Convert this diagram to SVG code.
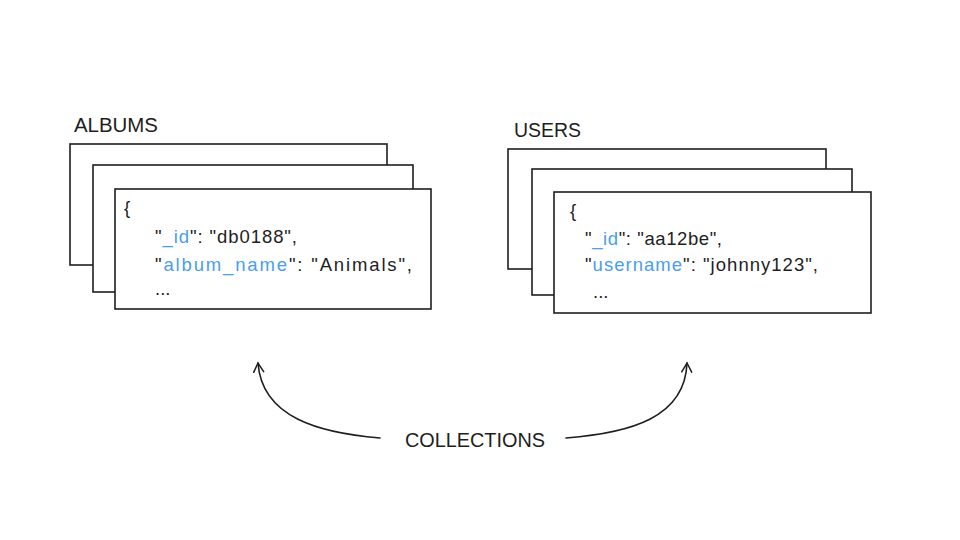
<svg xmlns="http://www.w3.org/2000/svg" width="960" height="540" viewBox="0 0 960 540">
<defs>
<style>
.card{fill:#fff;stroke:#1e1e1e;stroke-width:1.6}
.t{font-family:"Liberation Sans","DejaVu Sans",sans-serif;fill:#1e1e1e}
.code{font-size:18.5px}
.k{fill:#4a9eed}
.title{font-size:20px}
.conn{fill:none;stroke:#1e1e1e;stroke-width:1.6;stroke-linecap:round}
</style>
<marker id="arr" viewBox="0 0 12 12" refX="10" refY="6" markerWidth="12" markerHeight="12" markerUnits="userSpaceOnUse" orient="auto">
<path d="M1,1 L10,6 L1,11" fill="none" stroke="#1e1e1e" stroke-width="1.5" stroke-linecap="round"/>
</marker>
</defs>
<rect width="960" height="540" fill="#fff"/>
<g id="albums">
<text class="t title" x="74" y="132" textLength="84" lengthAdjust="spacingAndGlyphs">ALBUMS</text>
<rect class="card" x="70" y="144" width="317" height="121"/>
<rect class="card" x="93" y="165" width="320" height="127"/>
<rect class="card" x="115" y="189" width="316" height="120"/>
<text class="t code" x="124" y="214">{</text>
<text class="t code" x="155" y="243" textLength="142" lengthAdjust="spacing">"<tspan class="k">_id</tspan>": "db0188",</text>
<text class="t code" x="155" y="271" textLength="257" lengthAdjust="spacing">"<tspan class="k">album_name</tspan>": "Animals",</text>
<text class="t code" x="155" y="295">...</text>
</g>
<g id="users">
<text class="t title" x="514" y="137" textLength="67" lengthAdjust="spacingAndGlyphs">USERS</text>
<rect class="card" x="508" y="149" width="318" height="120"/>
<rect class="card" x="532" y="169" width="320" height="126"/>
<rect class="card" x="554" y="192" width="317" height="121"/>
<text class="t code" x="570" y="217">{</text>
<text class="t code" x="585" y="245" textLength="137" lengthAdjust="spacing">"<tspan class="k">_id</tspan>": "aa12be",</text>
<text class="t code" x="585" y="271" textLength="233" lengthAdjust="spacing">"<tspan class="k">username</tspan>": "johnny123",</text>
<text class="t code" x="593" y="298">...</text>
</g>
<g id="collections">
<text class="t title" x="475" y="447" text-anchor="middle" textLength="140" lengthAdjust="spacingAndGlyphs">COLLECTIONS</text>
</g>
<g id="connectors">
<path class="conn" d="M380,438 C320,433 262,418 258,363" marker-end="url(#arr)"/>
<path class="conn" d="M566,438 C630,433 685,418 687,363" marker-end="url(#arr)"/>
</g>
</svg>
